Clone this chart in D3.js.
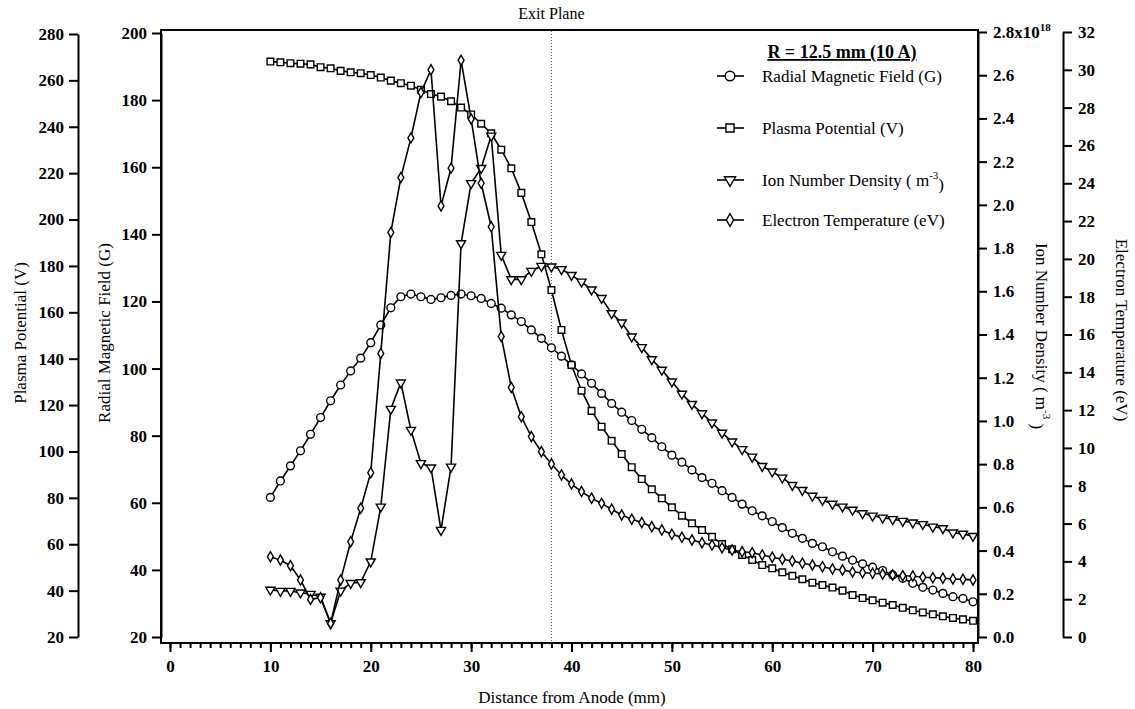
<!DOCTYPE html>
<html>
<head>
<meta charset="utf-8">
<script src="https://cdn.jsdelivr.net/npm/d3@7"></script>
<style>
  body { margin: 0; background: #fff; }
  svg { font-family: "Liberation Serif", "Times New Roman", serif; }
  .tick line, .domain { stroke: #000; stroke-width: 2; }
</style>
</head>
<body>
<script>
// ---- data ----
var distanceMm = [10,11,12,13,14,15,16,17,18,19,20,21,22,23,24,25,26,27,28,29,30,
  31,32,33,34,35,36,37,38,39,40,41,42,43,44,45,46,47,48,49,50,
  51,52,53,54,55,56,57,58,59,60,61,62,63,64,65,66,67,68,69,70,
  71,72,73,74,75,76,77,78,79,80];

// Radial Magnetic Field (G)
var radialField = [61.6,66.5,71.0,75.5,80.4,85.4,90.4,95.1,99.3,103.1,107.7,
  113.0,118.1,121.4,122.2,121.4,120.6,121.1,121.8,122.2,121.7,
  120.9,119.4,118.0,116.0,114.0,111.5,109.0,106.2,103.7,101.1,
  98.4,95.6,92.6,89.6,87.0,84.5,81.9,79.4,76.7,74.2,
  72.1,69.8,67.5,65.8,63.6,61.6,59.6,57.6,56.1,54.4,
  52.6,50.9,49.4,47.9,46.9,45.4,44.1,42.9,41.8,40.8,
  39.8,38.5,37.5,36.0,34.8,34.0,33.0,32.0,31.5,30.5];

// Plasma Potential (V)
var plasmaPotential = [268.1,267.8,267.4,267.2,266.9,265.7,265.2,264.1,263.5,263.1,262.3,
  261.2,259.9,258.8,257.7,256.0,254.1,253.0,251.0,248.3,245.3,
  241.3,237.2,230.1,222.1,211.5,198.9,185.0,169.6,152.4,137.3,
  126.2,117.5,110.7,104.6,98.9,93.2,88.1,83.7,79.8,75.9,
  72.3,69.0,66.1,63.2,60.1,57.8,55.4,53.2,51.0,49.6,
  47.9,46.4,44.9,43.4,42.4,41.3,40.0,38.1,36.8,35.8,
  34.8,33.8,32.6,31.5,30.6,29.8,28.9,28.2,27.6,27.0];

// Ion Number Density (x10^18 m^-3)
var ionDensity = [0.218,0.213,0.213,0.205,0.199,0.186,0.063,0.214,0.249,0.253,0.349,
  0.603,1.055,1.177,0.958,0.804,0.784,0.495,0.788,1.822,2.10,
  2.17,2.32,1.768,1.655,1.655,1.694,1.717,1.714,1.702,1.675,
  1.644,1.608,1.568,1.498,1.455,1.390,1.341,1.285,1.236,1.182,
  1.125,1.078,1.035,0.992,0.945,0.904,0.869,0.834,0.791,0.765,
  0.737,0.703,0.680,0.653,0.634,0.616,0.603,0.588,0.572,0.561,
  0.552,0.545,0.537,0.529,0.522,0.510,0.503,0.483,0.477,0.467];

// Electron Temperature (eV)
var electronTemp = [4.25,4.07,3.77,3.02,1.99,2.08,0.72,3.02,5.04,6.81,8.69,
  15.0,21.4,24.3,26.4,28.8,30.0,22.8,24.8,30.5,27.4,
  24.0,21.7,15.9,13.2,11.65,10.6,9.8,9.15,8.57,8.09,
  7.69,7.34,7.07,6.76,6.45,6.23,6.05,5.83,5.66,5.43,
  5.27,5.13,4.99,4.87,4.72,4.60,4.51,4.46,4.34,4.22,
  4.11,4.02,3.90,3.81,3.72,3.60,3.54,3.44,3.40,3.37,
  3.33,3.28,3.24,3.23,3.16,3.14,3.11,3.07,3.05,3.02];

var xTicks = [0,10,20,30,40,50,60,70,80];
var fieldTicks = [20,40,60,80,100,120,140,160,180,200];
var potentialTicks = [20,40,60,80,100,120,140,160,180,200,220,240,260,280];
var densityTicks = [0,0.2,0.4,0.6,0.8,1.0,1.2,1.4,1.6,1.8,2.0,2.2,2.4,2.6,2.8];
var tempTicks = [0,2,4,6,8,10,12,14,16,18,20,22,24,26,28,30,32];
var exitPlane = 38;

var serif = '"Liberation Serif", "Times New Roman", serif';

// ---- scales ----
var x = d3.scaleLinear().domain([0, 80]).range([170, 973]);
var yB = d3.scaleLinear().domain([20, 200]).range([637, 33]);
var yP = d3.scaleLinear().domain([20, 280]).range([637, 34]);
var yN = d3.scaleLinear().domain([0, 2.8]).range([637, 32]);
var yT = d3.scaleLinear().domain([0, 32]).range([637, 32]);

var svg = d3.select('body').append('svg')
  .attr('width', 1135)
  .attr('height', 709);

// axis text in bold serif like the scan
var styleAxis = function(g) {
  g.attr('font-family', serif).attr('font-size', 17).attr('font-weight', 'bold');
  g.selectAll('.tick text').attr('fill', '#000');
};

// plot frame
svg.append('rect')
  .attr('x', 161).attr('y', 30)
  .attr('width', 978 - 161).attr('height', 643 - 30)
  .attr('fill', 'none').attr('stroke', '#000').attr('stroke-width', 2);

// exit plane
svg.append('line')
  .attr('x1', x(exitPlane)).attr('x2', x(exitPlane))
  .attr('y1', 31).attr('y2', 642)
  .attr('stroke', '#555').attr('stroke-width', 1)
  .attr('stroke-dasharray', '1,2');
svg.append('text')
  .attr('x', x(exitPlane)).attr('y', 19)
  .attr('text-anchor', 'middle')
  .style('font-size', '16px')
  .text('Exit Plane');

// ---- axes ----
svg.append('g').attr('transform', 'translate(0,643)')
  .call(d3.axisBottom(x).tickValues(d3.range(0, 81)).tickSize(5).tickFormat(''))
  .call(function(g){ g.select('.domain').remove(); });
svg.append('g').attr('transform', 'translate(0,643)')
  .call(d3.axisBottom(x).tickValues(xTicks).tickSize(9).tickSizeOuter(0).tickPadding(8).tickFormat(d3.format('d')))
  .call(function(g){ g.select('.domain').remove(); })
  .call(styleAxis);

svg.append('g').attr('transform', 'translate(78,0)')
  .call(d3.axisLeft(yP).tickValues(potentialTicks).tickSize(9).tickSizeOuter(0).tickPadding(5))
  .call(styleAxis);
svg.append('g').attr('transform', 'translate(161,0)')
  .call(d3.axisLeft(yB).tickValues(fieldTicks).tickSize(9).tickSizeOuter(0).tickPadding(5))
  .call(styleAxis);

var nAxis = svg.append('g').attr('transform', 'translate(978,0)')
  .call(d3.axisRight(yN).tickValues(densityTicks).tickSize(9).tickSizeOuter(0).tickPadding(6).tickFormat(d3.format('.1f')))
  .call(styleAxis);
nAxis.selectAll('.tick text').filter(function(d){ return d === 2.8; })
  .text('2.8x10')
  .append('tspan').attr('dy', '-0.6em').attr('font-size', 11).text('18');

svg.append('g').attr('transform', 'translate(1063,0)')
  .call(d3.axisRight(yT).tickValues(tempTicks).tickSize(9).tickSizeOuter(0).tickPadding(6))
  .call(styleAxis);

// axis titles
svg.append('text')
  .attr('x', 572).attr('y', 703)
  .attr('text-anchor', 'middle').style('font-size', '17px')
  .text('Distance from Anode (mm)');
svg.append('text')
  .attr('transform', 'translate(26,333) rotate(-90)')
  .attr('text-anchor', 'middle').style('font-size', '17px')
  .text('Plasma Potential (V)');
svg.append('text')
  .attr('transform', 'translate(110,333) rotate(-90)')
  .attr('text-anchor', 'middle').style('font-size', '17px')
  .text('Radial Magnetic Field (G)');
var nTitle = svg.append('text')
  .attr('transform', 'translate(1036,336) rotate(90)')
  .attr('text-anchor', 'middle').style('font-size', '17px');
nTitle.append('tspan').text('Ion Number Density ( m');
nTitle.append('tspan').attr('dy', '-0.6em').style('font-size', '11px').text('-3');
nTitle.append('tspan').attr('dy', '0.6em').text(' )');
svg.append('text')
  .attr('transform', 'translate(1116,330) rotate(90)')
  .attr('text-anchor', 'middle').style('font-size', '17px')
  .text('Electron Temperature (eV)');

// ---- series ----
var series = [
  { name: 'Radial Magnetic Field (G)', values: radialField, y: yB, shape: d3.symbolCircle, size: 48, rot: 0 },
  { name: 'Plasma Potential (V)', values: plasmaPotential, y: yP, shape: d3.symbolSquare, size: 44, rot: 0 },
  { name: 'Ion Number Density ( m', values: ionDensity, y: yN, shape: d3.symbolTriangle, size: 36, rot: 180 },
  { name: 'Electron Temperature (eV)', values: electronTemp, y: yT, shape: d3.symbolDiamond, size: 30, rot: 0 }
];

series.forEach(function(s) {
  var pts = distanceMm.map(function(d, i){ return { x: d, v: s.values[i] }; });
  var line = d3.line()
    .x(function(d){ return x(d.x); })
    .y(function(d){ return s.y(d.v); });
  svg.append('path')
    .datum(pts)
    .attr('d', line)
    .attr('fill', 'none')
    .attr('stroke', '#000')
    .attr('stroke-width', 1.6);
  svg.append('g').selectAll('path')
    .data(pts)
    .enter()
    .append('path')
    .attr('d', d3.symbol().type(s.shape).size(s.size))
    .attr('transform', function(d){
      return 'translate(' + x(d.x) + ',' + s.y(d.v) + ') rotate(' + s.rot + ')';
    })
    .attr('fill', '#fff')
    .attr('stroke', '#000')
    .attr('stroke-width', 1.4);
});

// ---- legend ----
var legend = svg.append('g');
legend.append('text')
  .attr('x', 842).attr('y', 58)
  .attr('text-anchor', 'middle')
  .style('font-size', '18px').style('font-weight', 'bold')
  .style('text-decoration', 'underline')
  .text('R = 12.5 mm (10 A)');
var legendRows = [76, 128, 180, 220];
series.forEach(function(s, i) {
  var ly = legendRows[i];
  legend.append('line')
    .attr('x1', 717).attr('x2', 744).attr('y1', ly).attr('y2', ly)
    .attr('stroke', '#000').attr('stroke-width', 1.6);
  legend.append('path')
    .attr('d', d3.symbol().type(s.shape).size(s.size * 1.5))
    .attr('transform', 'translate(730,' + ly + ') rotate(' + s.rot + ')')
    .attr('fill', '#fff').attr('stroke', '#000').attr('stroke-width', 1.4);
  var t = legend.append('text')
    .attr('x', 762).attr('y', ly + 6)
    .style('font-size', '17px')
    .text(s.name);
  if (i === 2) {
    t.append('tspan').attr('dy', '-0.6em').style('font-size', '11px').text('-3');
    t.append('tspan').attr('dy', '0.6em').text(')');
  }
});
</script>
</body>
</html>
